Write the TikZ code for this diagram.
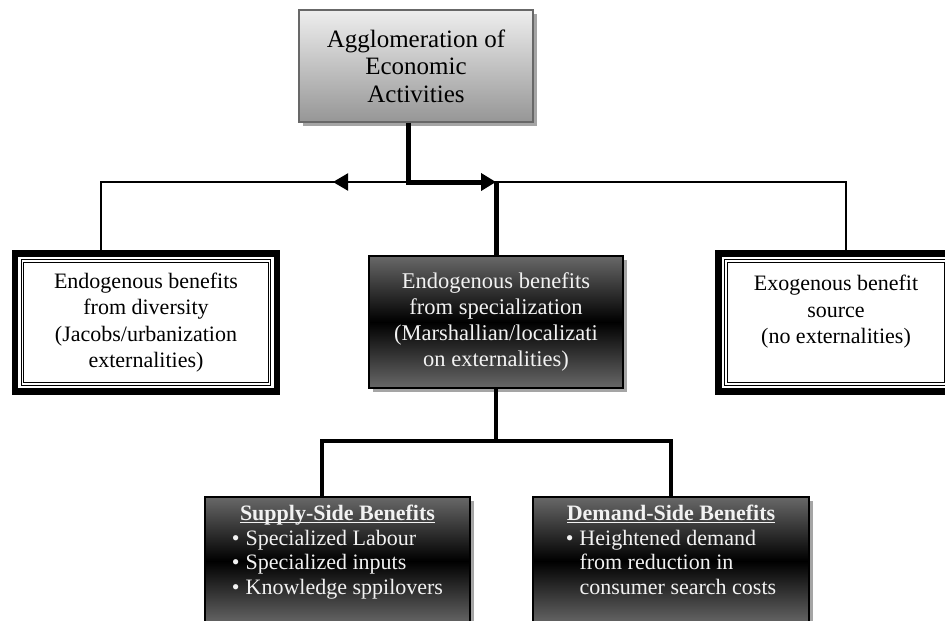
\documentclass[tikz,border=0pt]{standalone}
\usepackage{fontspec}
\setmainfont{Liberation Serif}
\usepackage{tikz}
\usetikzlibrary{arrows.meta,positioning,shadows,calc}
\definecolor{lighttop}{RGB}{238,238,238}
\definecolor{lightbottom}{RGB}{150,150,150}
\definecolor{darkedge}{RGB}{104,104,104}
\definecolor{shadowgray}{RGB}{165,165,165}
\definecolor{paletext}{RGB}{242,242,242}
\newcommand{\ultitle}[1]{\underline{\smash{\textbf{#1}}}}

\tikzset{
  boxfont/.style={font=\fontsize{22}{26.5}\selectfont},
  listfont/.style={font=\fontsize{22}{24.5}\selectfont},
  boxshadow/.style={drop shadow={shadow xshift=4pt, shadow yshift=-4pt, fill=shadowgray, opacity=1}},
  topbox/.style={draw=darkedge, line width=1.2pt, top color=lighttop, bottom color=lightbottom,
    boxshadow, font=\fontsize{25}{27.5}\selectfont, align=center, inner sep=0pt,
    minimum width=234pt, minimum height=112pt},
  darkbox/.style={draw=black, line width=1.5pt, top color=darkedge, bottom color=darkedge, middle color=black,
    boxshadow, text=paletext, align=center, inner sep=0pt},
  framebox/.style={draw=black, line width=6.5pt, fill=white, boxfont, align=center, inner sep=0pt,
    minimum width=262pt, minimum height=138.4pt,
    path picture={
      \draw[line width=1.3pt] ([shift={(6.3pt,-6.3pt)}]path picture bounding box.north west)
        rectangle ([shift={(-6.3pt,6.3pt)}]path picture bounding box.south east);
      \draw[line width=1pt] ([shift={(8.8pt,-8.8pt)}]path picture bounding box.north west)
        rectangle ([shift={(-8.8pt,8.8pt)}]path picture bounding box.south east);
    }},
  thinline/.style={line width=1.5pt},
  midline/.style={line width=2.2pt},
  thickline/.style={line width=5pt},
  lowline/.style={line width=4.7pt},
  headtip/.style={-{Triangle[length=15pt,width=17pt]}}
}

\begin{document}
\begin{tikzpicture}[x=1pt, y=-1pt]

\useasboundingbox (0,0) rectangle (945,621);
\clip (0,0) rectangle (945,621);

% ==========================================
% Boxes
% ==========================================
\node[topbox] (agglo) at (416,66) {Agglomeration of\\Economic\\Activities};

\node[framebox] (diverse) at (146,322.5)
  {Endogenous benefits\\from diversity\\(Jacobs/urbanization\\externalities)};

\node[darkbox, font=\fontsize{22.5}{26}\selectfont, minimum width=254pt, minimum height=132pt] (special) at (496,322)
  {Endogenous benefits\\from specialization\\(Marshallian/localizati\\on externalities)};

\node[framebox, minimum width=235pt] (exo) at (836,322.5)
  {Exogenous benefit\\source\\(no externalities)\\\mbox{}};

\node[darkbox, listfont, minimum width=265pt, minimum height=128pt] (supply) at (337.5,561)
  {\ultitle{Supply-Side Benefits}\\
   \begin{tabular}[t]{@{}l@{\hspace{6pt}}l@{}}
   \textbullet & Specialized Labour\\
   \textbullet & Specialized inputs\\
   \textbullet & Knowledge sppilovers
   \end{tabular}};

\node[darkbox, listfont, minimum width=276pt, minimum height=128pt] (demand) at (671,561)
  {\ultitle{Demand-Side Benefits}\\
   \begin{tabular}[t]{@{}l@{\hspace{6pt}}l@{}}
   \textbullet & Heightened demand\\
   & from reduction in\\
   & consumer search costs
   \end{tabular}};

% ==========================================
% Connectors
% ==========================================
\coordinate (bus) at (0,182);
\coordinate (lowbus) at (0,441);
\coordinate (leftTip) at (333,182);
\coordinate (aggloFoot) at ([xshift=-8pt]agglo.south);
\coordinate (diverseTop) at ([xshift=-45pt]diverse.north);
\coordinate (exoTop) at ([xshift=10pt]exo.north);
\coordinate (supplyTop) at ([xshift=-15.5pt]supply.north);

% thin bus to the outer boxes
\draw[thinline] (diverseTop) |- (exoTop |- bus) -- (exoTop);

% arrows out of the top box
\draw[midline, headtip] (aggloFoot |- bus) -- (leftTip);
\draw[thickline, headtip] (aggloFoot) |- (special.north |- bus);
\draw[thickline] (special.north |- bus) -- (special.north);

% lower branch
\draw[lowline] (special.south) -- (special.south |- lowbus);
\draw[lowline] (supplyTop) |- (demand.north |- lowbus) -- (demand.north);

\end{tikzpicture}
\end{document}
